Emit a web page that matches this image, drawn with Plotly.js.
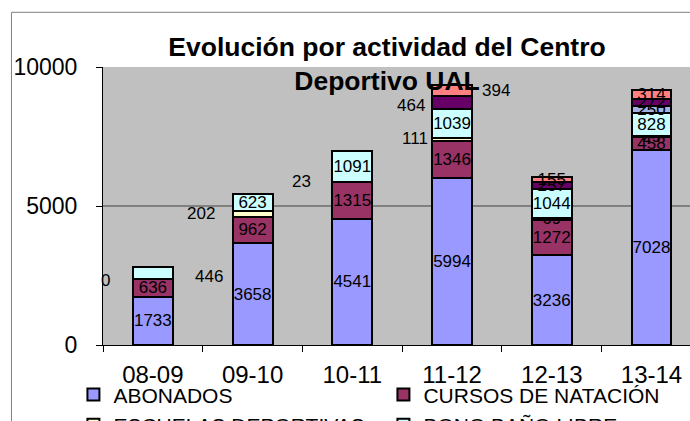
<!DOCTYPE html>
<html>
<head>
<meta charset="utf-8">
<script src="https://cdn.plot.ly/plotly-3.0.1.min.js"></script>
<style>
  html, body { margin: 0; padding: 0; background: #ffffff; }
  #chart { width: 690px; height: 421px; }
</style>
</head>
<body>
<div id="chart"></div>
<script>
// ---- data ----
const categories = ['08-09', '09-10', '10-11', '11-12', '12-13', '13-14'];
const abonados   = [1733, 3658, 4541, 5994, 3236, 7028];
const cursosNatacion = [636, 962, 1315, 1346, 1272, 458];
const escuelasDeportivas = [0, 202, 23, 111, 69, 29];
const bonoBanoLibre = [446, 623, 1091, 1039, 1044, 828];
const serie5 = [null, null, null, null, null, 250];
const serie6 = [null, null, null, 464, 257, 272];
const serie7 = [null, null, null, 394, 155, 314];

const seriesNames = ['ABONADOS', 'CURSOS DE NATACIÓN', 'ESCUELAS DEPORTIVAS', 'BONO BAÑO LIBRE',
                     'SERIE 5', 'SERIE 6', 'SERIE 7'];
const seriesValues = [abonados, cursosNatacion, escuelasDeportivas, bonoBanoLibre, serie5, serie6, serie7];

// ---- styling ----
const seriesColors = ['#9999FF', '#993366', '#FFFFCC', '#CCFFFF', '#A3B3E3', '#660066', '#FF8080'];
const inLegend = [true, true, true, true, false, false, false];
const FONT = 'Liberation Sans, Arial, sans-serif';

// labels that sit beside the bar: [series, category, anchor, xshift, yshift]
const movedLabels = [
  [2, 0, 'right', -41, -1],
  [3, 0, 'left', 40, -4],
  [2, 1, 'right', -36, 0],
  [2, 2, 'right', -39, 0],
  [2, 3, 'right', -22, 1],
  [5, 3, 'right', -25, -3],
  [6, 3, 'left', 28, 0]
];
const isMoved = (s, c) => movedLabels.some(m => m[0] === s && m[1] === c);

const traces = seriesValues.map((vals, s) => ({
  type: 'bar',
  name: seriesNames[s],
  x: categories,
  y: vals,
  showlegend: inLegend[s],
  marker: { color: seriesColors[s], line: { color: '#000000', width: 2 } },
  text: vals.map((v, c) => (v === null || isMoved(s, c)) ? '' : String(v)),
  textposition: 'inside',
  insidetextanchor: 'middle',
  textangle: 0,
  constraintext: 'none',
  cliponaxis: false,
  textfont: { family: FONT, size: 17, color: '#000000' },
  hoverinfo: 'x+y+name'
}));

// positions of moved labels from cumulative stack values
const annotations = movedLabels.map(([s, c, anchor, xs, ys]) => {
  let base = 0;
  for (let k = 0; k < s; k++) base += (seriesValues[k][c] || 0);
  const v = seriesValues[s][c] || 0;
  return {
    x: categories[c], y: base + v / 2, xref: 'x', yref: 'y',
    text: String(v), showarrow: false, xanchor: anchor, yanchor: 'middle',
    xshift: xs, yshift: ys,
    font: { family: FONT, size: 17, color: '#000000' }
  };
});

const W = 690, H = 421;
const mL = 102.6, mT = 66.7, mB = H - 344.7, mR = 0;
const plotW = W - mL - mR, plotH = H - mT - mB;
const px = x => (x - mL) / plotW;
const py = y => (H - mB - y) / plotH;

const layout = {
  width: W, height: H,
  paper_bgcolor: '#FFFFFF',
  plot_bgcolor: '#C0C0C0',
  barmode: 'stack',
  bargap: 0.6,
  margin: { l: mL, r: mR, t: mT, b: mB, autoexpand: false },
  font: { family: FONT, color: '#000000' },
  title: {
    text: '<b>Evolución por actividad del Centro<br>Deportivo UAL</b>',
    font: { family: FONT, size: 26.5, color: '#000000' },
    x: 387 / W, xref: 'container', xanchor: 'center',
    y: 1 - 56 / H, yref: 'container', yanchor: 'top'
  },
  xaxis: {
    type: 'category',
    range: [-0.5, 5.386],
    showgrid: false,
    showline: true, linecolor: '#000000', linewidth: 1,
    ticks: 'outside', tickson: 'boundaries', ticklen: 6, tickcolor: '#000000', tickwidth: 1,
    ticklabelstandoff: 8,
    tickfont: { family: FONT, size: 24, color: '#000000' },
    fixedrange: true
  },
  yaxis: {
    range: [0, 10000],
    tickvals: [0, 5000, 10000],
    ticktext: ['0', '5000', '10000'],
    showgrid: true, gridcolor: '#808080', gridwidth: 1.5,
    zeroline: false,
    showline: true, linecolor: '#000000', linewidth: 1,
    ticks: 'outside', ticklen: 6, tickcolor: '#000000', tickwidth: 1,
    ticklabelstandoff: 14,
    tickfont: { family: FONT, size: 23, color: '#000000' },
    fixedrange: true
  },
  legend: {
    orientation: 'h',
    x: px(73), xanchor: 'left',
    y: py(374), yanchor: 'top',
    entrywidth: 265, entrywidthmode: 'pixels',
    tracegroupgap: 0,
    font: { family: FONT, size: 21, color: '#000000' },
    bgcolor: 'rgba(0,0,0,0)',
    traceorder: 'normal'
  },
  annotations: annotations,
  shapes: [
    { type: 'line', xref: 'paper', yref: 'paper', x0: px(11), x1: px(700), y0: py(12), y1: py(12),
      line: { color: '#808080', width: 1 } },
    { type: 'line', xref: 'paper', yref: 'paper', x0: px(11), x1: px(11), y0: py(12), y1: py(440),
      line: { color: '#808080', width: 1 } }
  ]
};

Plotly.newPlot('chart', traces, layout, { staticPlot: true, displayModeBar: false });
</script>
</body>
</html>
